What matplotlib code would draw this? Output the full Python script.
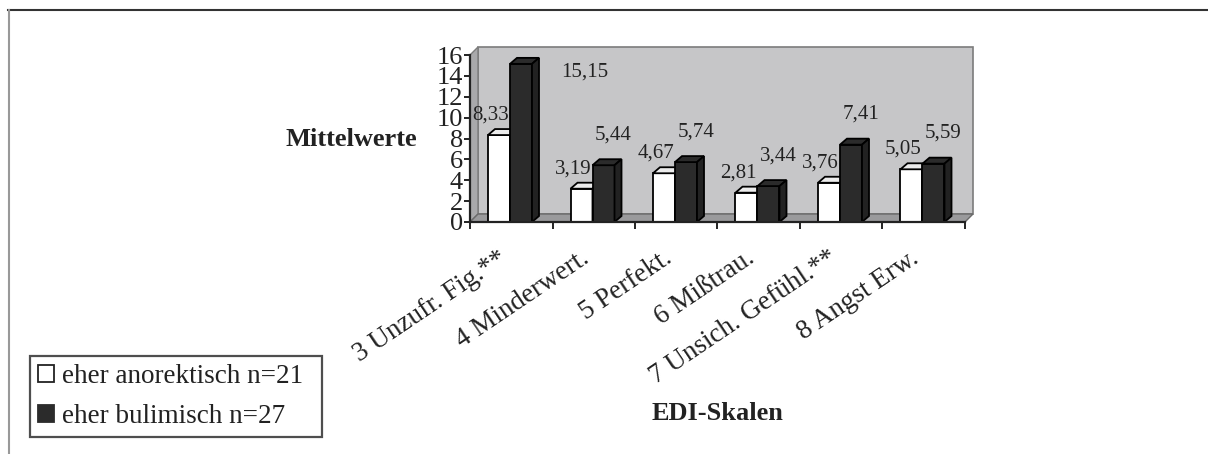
import numpy as np
import matplotlib
matplotlib.use("Agg")
import matplotlib.pyplot as plt
from matplotlib.patches import Polygon, Rectangle, Patch
from matplotlib.lines import Line2D

plt.rcParams['font.family'] = ['Liberation Serif', 'DejaVu Serif']

# EDI-Skalen, Mittelwerte je Gruppe
categories = ["3 Unzufr. Fig.**", "4 Minderwert.", "5 Perfekt.", "6 Mißtrau.",
              "7 Unsich. Gefühl.**", "8 Angst Erw."]
anorektisch = [8.33, 3.19, 4.67, 2.81, 3.76, 5.05]
bulimisch = [15.15, 5.44, 5.74, 3.44, 7.41, 5.59]
group_labels = ["eher anorektisch n=21", "eher bulimisch n=27"]
yticks = [0, 2, 4, 6, 8, 10, 12, 14, 16]

W, H = 1208, 454
fig = plt.figure(figsize=(W / 100, H / 100), dpi=100)

# axes box in pixels (front plane)
ax_l, ax_r, ax_b, ax_t = 470, 965, 222, 55
ax = fig.add_axes([ax_l / W, (H - ax_b) / H, (ax_r - ax_l) / W, (ax_b - ax_t) / H])
n = len(categories)
ymax = 16
ax.set_xlim(0, n)
ax.set_ylim(0, ymax)
ax.patch.set_visible(False)

# pixel -> data unit factors
px_x = n / (ax_r - ax_l)
px_y = ymax / (ax_b - ax_t)

# 3d wall, side and floor
wdx, wdy = 8 * px_x, 8 * px_y
ax.add_patch(Rectangle((wdx, wdy), n, ymax, fc='#c6c6c8', ec='#7c7c7c', lw=1.2,
                       clip_on=False, zorder=0))
ax.add_patch(Polygon([(0, 0), (wdx, wdy), (wdx, ymax + wdy), (0, ymax)],
                     closed=True, fc='#a9a9ab', ec='#7c7c7c', lw=1.0, clip_on=False, zorder=0.5))
ax.add_patch(Polygon([(0, 0), (n, 0), (n + wdx, wdy), (wdx, wdy)],
                     closed=True, fc='#9a9a9c', ec='#6a6a6a', lw=1.0, clip_on=False, zorder=0.5))

# bars with depth
bw = 22 * px_x
bdx, bdy = 7 * px_x, 6 * px_y
dark = '#2b2b2b'


def bar3d(x0, v, face, top, side):
    ax.add_patch(Rectangle((x0, 0), bw, v, fc=face, ec='black', lw=1.3, zorder=2))
    ax.add_patch(Polygon([(x0, v), (x0 + bw, v), (x0 + bw + bdx, v + bdy), (x0 + bdx, v + bdy)],
                         closed=True, fc=top, ec='black', lw=1.3, zorder=2, clip_on=False))
    ax.add_patch(Polygon([(x0 + bw, 0), (x0 + bw + bdx, bdy), (x0 + bw + bdx, v + bdy), (x0 + bw, v)],
                         closed=True, fc=side, ec='black', lw=1.3, zorder=2))


def fmt(v):
    return f"{v:.2f}".replace('.', ',')


for i in range(n):
    xw = i + 18 * px_x
    xb = xw + bw
    bar3d(xw, anorektisch[i], 'white', '#ececec', '#d0d0d0')
    bar3d(xb, bulimisch[i], dark, '#2b2b2b', '#222222')

    ax.text(xw + bw / 2 - 0.1, anorektisch[i] + 1.9, fmt(anorektisch[i]),
            ha='center', va='center', fontsize=15, color='#222222', zorder=5)
    lx, ly = xb + bw / 2 + 0.12, bulimisch[i] + 2.9
    if ly > 14.4:
        lx, ly = lx + 0.65, 14.4
    ax.text(lx, ly, fmt(bulimisch[i]), ha='center', va='center',
            fontsize=15, color='#222222', zorder=5)

# axes lines and ticks
for s in ['top', 'right']:
    ax.spines[s].set_visible(False)
for s in ['left', 'bottom']:
    ax.spines[s].set_color('#222222')
    ax.spines[s].set_linewidth(1.6)
    ax.spines[s].set_zorder(3)

ax.set_yticks(yticks)
ax.set_yticklabels([str(t) for t in yticks])
ax.tick_params(axis='y', direction='out', length=4, width=1.4, pad=1,
               labelsize=19, colors='#222222')

ax.set_xticks(np.arange(n + 1))
ax.set_xticklabels([])
ax.tick_params(axis='x', which='major', direction='out', length=5, width=1.4, color='#222222')
ax.set_xticks(np.arange(n) + 0.5, minor=True)
ax.set_xticklabels(categories, minor=True, rotation=34, ha='right', fontsize=19.5,
                   color='#222222')
ax.tick_params(axis='x', which='minor', length=0, pad=17)

# axis titles
fig.text(351 / W, 1 - 140 / H, "Mittelwerte", ha='center', va='center',
         fontsize=19, fontweight='bold', color='#222222')
fig.text(718 / W, 1 - 414 / H, "EDI-Skalen", ha='center', va='center',
         fontsize=19, fontweight='bold', color='#222222')

# legend box stretched to its frame
handles = [Patch(facecolor='white', edgecolor='#222222', lw=1.3),
           Patch(facecolor=dark, edgecolor=dark, lw=1.3)]
leg = fig.legend(handles, group_labels, loc='lower left', mode='expand',
                 bbox_to_anchor=(30 / W, (H - 437) / H, 292 / W, 79 / H), fontsize=19.5,
                 frameon=True, fancybox=False, edgecolor='#222222',
                 handlelength=0.6, handleheight=0.6, handletextpad=0.3,
                 labelspacing=0.55, borderpad=0.3, borderaxespad=0)
leg.get_frame().set_linewidth(1.6)
for t in leg.get_texts():
    t.set_color('#222222')

# outer frame
fig.add_artist(Line2D([8 / W, 1], [1 - 10 / H, 1 - 10 / H], color='#333333', lw=1.5))
fig.add_artist(Line2D([9 / W, 9 / W], [0, 1 - 10 / H], color='#999999', lw=1.5))

fig.savefig("out.png", dpi=100)
